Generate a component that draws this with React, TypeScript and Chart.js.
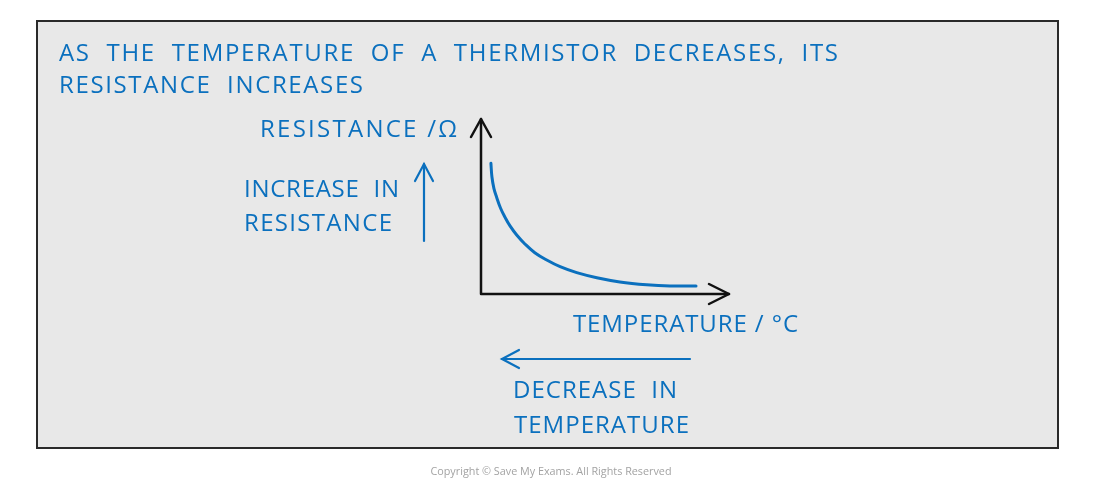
import React, { useEffect, useRef } from "react";
import { Chart, registerables } from "chart.js";

Chart.register(...registerables);

// Curve data (arbitrary units: temperature on x, resistance on y)
const temperature = [0.4, 0.44, 0.52, 0.63, 0.79, 0.97, 1.17, 1.44, 1.77, 2.17, 2.65, 3.19, 3.86, 4.67, 5.6, 6.68, 7.62, 8.67];
const resistance = [7.47, 6.7, 6.04, 5.53, 4.9, 4.38, 3.89, 3.37, 2.86, 2.36, 1.94, 1.56, 1.22, 0.93, 0.69, 0.53, 0.46, 0.46];

const titleLines = [
  "AS  THE  TEMPERATURE  OF  A  THERMISTOR  DECREASES,  ITS",
  "RESISTANCE  INCREASES",
];
const yAxisLabel = "RESISTANCE /Ω";
const xAxisLabel = "TEMPERATURE / °C";
const increaseLabel = ["INCREASE  IN", "RESISTANCE"];
const decreaseLabel = ["DECREASE  IN", "TEMPERATURE"];
const copyright = "Copyright © Save My Exams. All Rights Reserved";

const BLUE = "#0b70be";
const FONT = '"Open Sans", "DejaVu Sans", sans-serif';

function fitText(ctx: CanvasRenderingContext2D, text: string, x: number, y: number, right: number, size: number) {
  ctx.font = `${size}px ${FONT}`;
  (ctx as any).letterSpacing = "0px";
  const w = ctx.measureText(text).width;
  const ls = (right - x - w) / Math.max(1, text.length - 1);
  (ctx as any).letterSpacing = `${ls}px`;
  ctx.fillText(text, x, y);
  (ctx as any).letterSpacing = "0px";
}

function arrowHead(ctx: CanvasRenderingContext2D, tipX: number, tipY: number, dx: number, dy: number, len: number, half: number) {
  const px = -dy, py = dx;
  ctx.beginPath();
  ctx.moveTo(tipX - dx * len + px * half, tipY - dy * len + py * half);
  ctx.lineTo(tipX, tipY);
  ctx.lineTo(tipX - dx * len - px * half, tipY - dy * len - py * half);
  ctx.stroke();
}

const decorPlugin = {
  id: "decor",
  beforeDraw(chart: any) {
    const ctx = chart.ctx as CanvasRenderingContext2D;
    ctx.save();
    ctx.fillStyle = "#ffffff";
    ctx.fillRect(0, 0, chart.width, chart.height);
    ctx.fillStyle = "#e8e8e8";
    ctx.fillRect(37, 21, 1021, 427);
    ctx.strokeStyle = "#2a2a2a";
    ctx.lineWidth = 2;
    ctx.strokeRect(37, 21, 1021, 427);

    const xs = chart.scales.x, ys = chart.scales.y;
    const x0 = xs.getPixelForValue(0), x1 = xs.getPixelForValue(10);
    const y0 = ys.getPixelForValue(0), y1 = ys.getPixelForValue(10);
    ctx.strokeStyle = "#111111";
    ctx.lineWidth = 2.5;
    ctx.lineCap = "round";
    ctx.lineJoin = "round";
    ctx.beginPath();
    ctx.moveTo(x0, y1);
    ctx.lineTo(x0, y0);
    ctx.lineTo(x1, y0);
    ctx.stroke();
    arrowHead(ctx, x0, y1, 0, -1, 18, 10);
    arrowHead(ctx, x1, y0, 1, 0, 20, 10);
    ctx.restore();
  },
  afterDraw(chart: any) {
    const ctx = chart.ctx as CanvasRenderingContext2D;
    ctx.save();
    ctx.fillStyle = BLUE;
    ctx.textBaseline = "alphabetic";
    ctx.textAlign = "left";
    fitText(ctx, titleLines[0], 59, 61, 838, 24);
    fitText(ctx, titleLines[1], 59, 93, 363, 24);
    fitText(ctx, yAxisLabel, 260, 137, 457, 24);
    fitText(ctx, increaseLabel[0], 244, 197, 399, 24);
    fitText(ctx, increaseLabel[1], 244, 231, 392, 24);
    fitText(ctx, xAxisLabel, 573, 332, 798, 24);
    fitText(ctx, decreaseLabel[0], 513, 398, 677, 24);
    fitText(ctx, decreaseLabel[1], 514, 433, 689, 24);

    ctx.strokeStyle = BLUE;
    ctx.lineWidth = 2.2;
    ctx.lineCap = "round";
    ctx.beginPath();
    ctx.moveTo(424, 241);
    ctx.lineTo(424, 164);
    ctx.stroke();
    arrowHead(ctx, 424, 164, 0, -1, 17, 9);
    ctx.beginPath();
    ctx.moveTo(690, 359);
    ctx.lineTo(502, 359);
    ctx.stroke();
    arrowHead(ctx, 502, 359, -1, 0, 17, 9);

    ctx.fillStyle = "#a3a3a3";
    ctx.textAlign = "center";
    ctx.font = `10.8px ${FONT}`;
    ctx.fillText(copyright, 551, 475);
    ctx.restore();
  },
};

export default function App() {
  const ref = useRef<HTMLCanvasElement | null>(null);
  useEffect(() => {
    if (!ref.current) return;
    const chart = new Chart(ref.current, {
      type: "scatter",
      data: {
        datasets: [
          {
            data: temperature.map((t, i) => ({ x: t, y: resistance[i] })),
            showLine: true,
            borderColor: BLUE,
            borderWidth: 3,
            borderCapStyle: "round",
            borderJoinStyle: "round",
            pointRadius: 0,
            tension: 0.4,
          } as any,
        ],
      },
      options: {
        animation: false,
        responsive: false,
        maintainAspectRatio: false,
        layout: { padding: { left: 481, right: 371, top: 119, bottom: 197 } },
        plugins: { legend: { display: false }, tooltip: { enabled: false }, title: { display: false } },
        scales: {
          x: { type: "linear", min: 0, max: 10, display: false },
          y: { type: "linear", min: 0, max: 10, display: false },
        },
      },
      plugins: [decorPlugin],
    });
    return () => chart.destroy();
  }, []);
  return (
    <div style={{ position: "absolute", left: 0, top: 0, width: 1100, height: 491 }}>
      <canvas ref={ref} width={1100} height={491} />
    </div>
  );
}
